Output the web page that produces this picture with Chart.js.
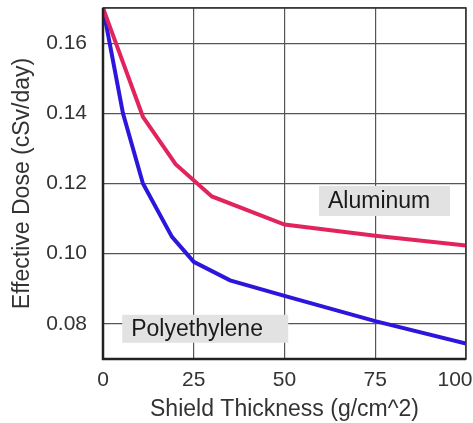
<!DOCTYPE html>
<html>
<head>
  <meta charset="UTF-8">
  <title>Effective Dose vs Shield Thickness</title>
  <script src="https://cdn.jsdelivr.net/npm/chart.js"></script>
  <style>
    html, body {
      margin: 0;
      padding: 0;
      background: #fff;
    }
    .chart-container {
      width: 473px;
      height: 423px;
      position: relative;
    }
  </style>
</head>
<body>

  <div class="chart-container">
    <canvas id="doseChart"></canvas>
  </div>

  <script>
    // shield thickness (g/cm^2) and daily effective dose (cSv/day)
    const aluminumThickness = [0, 11, 20, 30, 50, 75, 100];
    const aluminumDose = [0.170, 0.139, 0.1255, 0.1163, 0.1083, 0.1051, 0.1023];

    const polyThickness = [0, 5.5, 11, 19, 25, 35, 50, 75, 100];
    const polyDose = [0.170, 0.140, 0.120, 0.1048, 0.0977, 0.0924, 0.0880, 0.0808, 0.0744];

    const xTicks = [0, 25, 50, 75, 100];
    const yTicks = [0.07, 0.08, 0.10, 0.12, 0.14, 0.16, 0.17];
    const yLabelled = [0.08, 0.10, 0.12, 0.14, 0.16];

    const seriesNames = ['Aluminum', 'Polyethylene'];

    const FONT = '"Liberation Sans", Arial, sans-serif';

    const toPoints = (xs, ys) => xs.map((x, i) => ({ x: x, y: ys[i] }));

    // gray name tags, anchored in data units (left, top)
    const tags = [
      { text: seriesNames[0], x: 59.5, y: 0.1193, w: 131, h: 30 },
      { text: seriesNames[1], x: 5.3, y: 0.0826, w: 166, h: 28 }
    ];

    const tagPlugin = {
      id: 'tags',
      beforeDraw(chart) {
        // keep the last x label inside the canvas
        const items = chart.scales.x.getLabelItems();
        const last = items[items.length - 1];
        if (last && !last._nudged) {
          last.options.translation[0] -= 11;
          last._nudged = true;
        }
      },
      beforeDatasetsDraw(chart) {
        const ctx = chart.ctx;
        const xs = chart.scales.x, ys = chart.scales.y;
        ctx.save();
        tags.forEach(t => {
          const px = xs.getPixelForValue(t.x);
          const py = ys.getPixelForValue(t.y);
          ctx.fillStyle = '#e2e2e2';
          ctx.fillRect(px, py, t.w, t.h);
          ctx.fillStyle = '#1a1a1a';
          ctx.font = '23px ' + FONT;
          ctx.textBaseline = 'middle';
          ctx.fillText(t.text, px + 9, py + t.h / 2 + 1);
        });
        ctx.restore();
      },
      afterDatasetsDraw(chart) {
        // frame around the plot
        const a = chart.chartArea;
        const ctx = chart.ctx;
        ctx.save();
        ctx.strokeStyle = '#333';
        ctx.lineWidth = 1.5;
        ctx.strokeRect(a.left, a.top, a.right - a.left, a.bottom - a.top);
        ctx.lineWidth = 2.5;
        ctx.strokeStyle = '#222';
        ctx.beginPath();
        ctx.moveTo(a.left, a.top);
        ctx.lineTo(a.left, a.bottom);
        ctx.lineTo(a.right, a.bottom);
        ctx.stroke();
        ctx.restore();
      }
    };

    const noPadding = s => {
      s.paddingLeft = s.paddingRight = s.paddingTop = s.paddingBottom = 0;
    };

    new Chart(document.getElementById('doseChart'), {
      type: 'line',
      data: {
        datasets: [
          {
            label: seriesNames[0],
            data: toPoints(aluminumThickness, aluminumDose),
            borderColor: '#e2245c',
            borderWidth: 4,
            pointRadius: 0,
            tension: 0
          },
          {
            label: seriesNames[1],
            data: toPoints(polyThickness, polyDose),
            borderColor: '#2c16dc',
            borderWidth: 4,
            pointRadius: 0,
            tension: 0
          }
        ]
      },
      options: {
        responsive: true,
        maintainAspectRatio: false,
        animation: false,
        layout: { padding: { top: 8, right: 7, left: 0, bottom: 0 } },
        plugins: {
          legend: { display: false },
          tooltip: { enabled: false }
        },
        scales: {
          x: {
            type: 'linear',
            min: 0,
            max: 100,
            afterBuildTicks: s => { s.ticks = xTicks.map(v => ({ value: v })); },
            afterFit: s => { s.height = 64; noPadding(s); },
            grid: { color: '#555', lineWidth: 1.2, drawTicks: false },
            border: { display: false },
            ticks: {
              color: '#333',
              padding: 9,
              maxRotation: 0,
              font: { family: FONT, size: 21 }
            },
            title: {
              display: true,
              text: 'Shield Thickness (g/cm^2)',
              color: '#333',
              padding: { top: 0, bottom: 0 },
              font: { family: FONT, size: 23 }
            }
          },
          y: {
            min: 0.07,
            max: 0.17,
            afterBuildTicks: s => { s.ticks = yTicks.map(v => ({ value: v })); },
            afterFit: s => { s.width = 103; noPadding(s); },
            grid: { color: '#555', lineWidth: 1.2, drawTicks: false },
            border: { display: false },
            ticks: {
              color: '#333',
              padding: 16,
              font: { family: FONT, size: 21 },
              callback: v => yLabelled.some(t => Math.abs(t - v) < 1e-6) ? v.toFixed(2) : ''
            },
            title: {
              display: true,
              text: 'Effective Dose (cSv/day)',
              color: '#333',
              padding: { top: 9, bottom: 0 },
              font: { family: FONT, size: 23 }
            }
          }
        }
      },
      plugins: [tagPlugin]
    });
  </script>

</body>
</html>
